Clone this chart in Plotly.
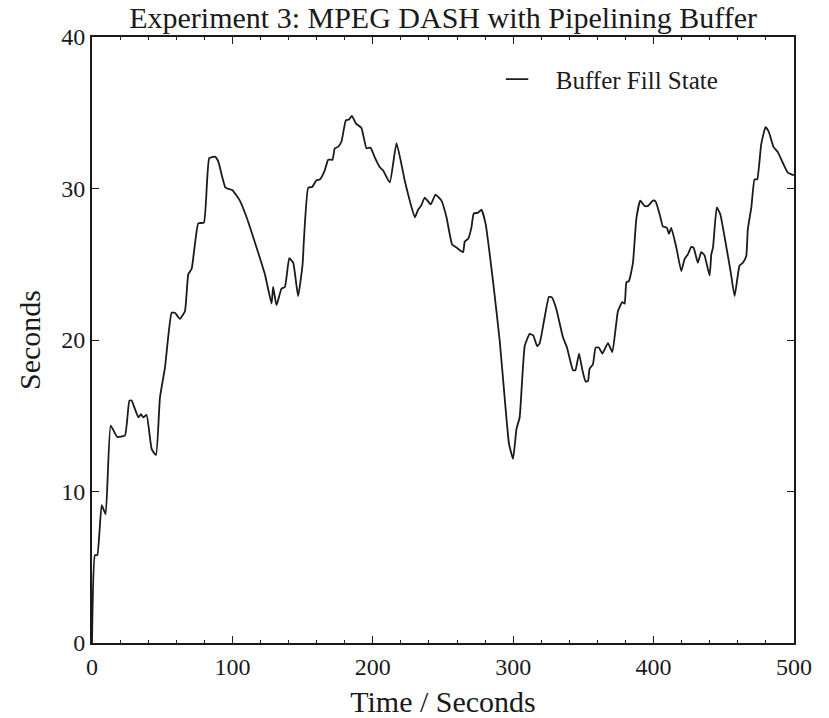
import plotly.graph_objects as go

time_s = [0, 2.1, 3.8, 6.9, 9.7, 13.3, 18, 23.5, 26.6, 28.2, 33, 34.9, 36.5, 38.9, 42.5, 45.6, 48.4, 52,
          56.7, 59, 62.6, 66.2, 68.6, 71, 75.7, 79.7, 83.5, 87.5, 89.9, 95.1, 99.9, 105.3, 110.1, 117.2,
          123.1, 127.9, 129, 131.4, 135, 137.4, 140.5, 143.3, 146.8, 150, 150.9, 154, 156.8, 159.9, 162.3,
          165.8, 168.2, 171.3, 172.9, 175.3, 177.7, 180.8, 183.1, 185.1, 187.9, 191.9, 195.5, 198.4, 201.4,
          205, 207.3, 212.1, 216.9, 222.8, 226.3, 229.9, 232.3, 234.6, 237, 241.3, 244.6, 248.9, 252.5,
          256.5, 259.6, 264.3, 265.5, 268, 270.2, 271.9, 275, 277.4, 280.4, 285.6, 290.4, 293.9, 297, 299.9,
          302.3, 304.6, 308.2, 311.7, 314.3, 317, 318.9, 322.4, 325.5, 327.7, 330.7, 335.4, 338.3, 342.6,
          344.3, 346.9, 349.3, 351.6, 353.3, 354.4, 356.8, 358.7, 361, 363.5, 367.5, 370.6, 374.6, 377.7,
          379.4, 380.6, 382.5, 385.3, 387.7, 390.5, 393.6, 396, 399.5, 401.4, 404.3, 406.6, 409.5, 410.9,
          412.6, 416.2, 419.7, 422.1, 424.4, 426.8, 428.5, 431.5, 433.9, 436.2, 439.9, 441.1, 442.3, 445,
          447.5, 451.7, 454.8, 457.7, 461.2, 463.6, 466, 467.1, 469.6, 471.9, 473.8, 476.6, 479.7, 482,
          485.4, 488.5, 492, 495.6, 499.2, 500]

buffer_fill = [0, 5.8, 5.8, 9.1, 8.5, 14.35, 13.6, 13.7, 16.0, 16.0, 14.9, 15.1, 14.9, 15.05, 12.8, 12.4, 16.2, 18.2,
               21.8, 21.8, 21.4, 21.9, 24.35, 24.7, 27.7, 27.75, 32.0, 32.1, 31.8, 30.05, 29.9, 29.2, 28.1, 26.1,
               24.35, 22.4, 23.5, 22.3, 23.4, 23.5, 25.4, 25.1, 22.9, 25.0, 26.55, 30.05, 30.1, 30.55, 30.6,
               31.2, 31.9, 31.9, 32.65, 32.75, 33.1, 34.5, 34.55, 34.8, 34.3, 34.0, 32.65, 32.7, 32.05,
               31.4, 31.2, 30.4, 33.0, 30.5, 29.2, 28.1, 28.6, 28.9, 29.4, 28.95, 29.6, 29.2, 28.1,
               26.3, 26.1, 25.8, 26.5, 26.7, 27.4, 28.35, 28.4, 28.6, 27.65, 23.9, 19.95, 16.2, 13.15, 12.15,
               14.1, 14.9, 19.6, 20.4, 20.3, 19.6, 19.8, 21.5, 22.85, 22.8, 22.05, 20.2, 19.5, 18.0,
               18.0, 19.1, 18.0, 17.25, 17.3, 18.1, 18.4, 19.5, 19.5, 19.1, 19.8, 19.2, 21.9, 22.5,
               22.4, 23.8, 23.9, 25.1, 28.0, 29.2, 28.85, 28.85, 29.2, 29.15, 28.3, 27.5, 27.4, 27.0,
               27.4, 26.1, 24.55, 25.35, 25.65, 26.15, 26.1, 25.1, 25.8, 25.6, 24.25, 25.65, 26.1, 28.75,
               28.3, 26.2, 24.55, 22.9, 24.9, 25.1, 25.55, 27.3, 28.75, 30.6, 30.6, 32.9, 34.05, 33.75,
               32.75, 32.4, 31.7, 31.05, 30.9, 30.9]

x_ticks = [0, 100, 200, 300, 400, 500]
y_ticks = [0, 10, 20, 30, 40]
series_name = "Buffer Fill State"

FONT = "Liberation Serif"
INK = "#1a1a1a"

fig = go.Figure()
fig.add_trace(go.Scatter(
    x=time_s, y=buffer_fill, mode="lines", name=series_name, showlegend=False,
    legendgroup="buf",
    line=dict(color=INK, width=1.8, shape="spline", smoothing=0.4),
))
# legend entry with a short line symbol (as in the reference)
fig.add_trace(go.Scatter(
    x=[None], y=[None], mode="markers", name="\u00a0\u00a0\u00a0" + series_name,
    legendgroup="buf",
    marker=dict(symbol="line-ew", size=17, color=INK, line=dict(color=INK, width=1.6)),
))

axis_common = dict(
    showgrid=False, zeroline=False, showline=True, linecolor=INK, linewidth=1.8,
    mirror="allticks", ticks="inside", tickcolor=INK, tickwidth=1.3, ticklen=7,
    tickfont=dict(family=FONT, size=24, color=INK), automargin=False,
)

fig.update_layout(
    width=829, height=718,
    margin=dict(l=92, r=35, t=37, b=75),
    paper_bgcolor="white", plot_bgcolor="white",
    title=dict(text="Experiment 3: MPEG DASH with Pipelining Buffer",
               font=dict(family=FONT, size=30, color=INK),
               x=0.5345, xanchor="center", y=0.976, yanchor="middle"),
    xaxis=dict(range=[0, 500], tickvals=x_ticks,
               minor=dict(dtick=20, ticks="inside", ticklen=3.5, tickcolor=INK, tickwidth=1.1),
               title=dict(text="Time / Seconds", font=dict(family=FONT, size=30, color=INK), standoff=15),
               ticklabelstandoff=1,
               **axis_common),
    yaxis=dict(range=[0, 40], tickvals=y_ticks,
               title=dict(text="Seconds", font=dict(family=FONT, size=30, color=INK), standoff=12),
               **axis_common),
    showlegend=True,
    legend=dict(x=0.577, y=0.968, xanchor="left", yanchor="top",
                font=dict(family=FONT, size=25, color=INK),
                bgcolor="rgba(0,0,0,0)"),
)

fig.write_html("out.html")
